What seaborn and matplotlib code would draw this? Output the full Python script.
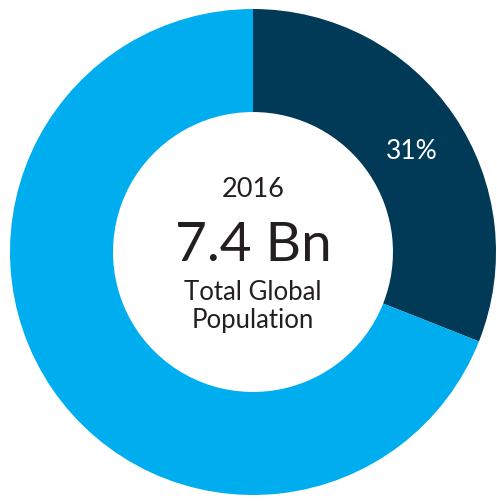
import matplotlib
matplotlib.use("Agg")
import matplotlib.pyplot as plt
import seaborn as sns

# ---- data ---- #
labels = ["Share", "Rest"]
shares = [31, 69]
colors = ["#003a57", "#00aeef"]
year = "2016"
total = "7.4 Bn"
caption = "Total Global\nPopulation"

sns.set_theme(style="white")
plt.rcParams["font.family"] = ["Lato", "DejaVu Sans"]

fig = plt.figure(figsize=(4.97, 5.02), dpi=100)
ax = fig.add_axes([0, 0, 1, 1])

wedges, _ = ax.pie(shares, colors=colors, startangle=90, counterclock=False,
                   radius=1.0, wedgeprops=dict(width=0.424, linewidth=0))

ax.set_aspect("equal")
ax.set_xlim(-253 / 243, (497 - 253) / 243)
ax.set_ylim(-(502 - 253) / 243, 253 / 243)
ax.axis("off")

# percentage label on the dark segment
ax.text(0.654, 0.416, f"{shares[0]}%", color="white", fontsize=19,
        ha="center", va="center")

# centre text
txt = "#231f20"
ax.text(0, 0.26, year, color=txt, fontsize=19.5, ha="center", va="center")
ax.text(0, 0.03, total, color=txt, fontsize=39.5, ha="center", va="center")
ax.text(0, -0.22, caption, color=txt, fontsize=18.5, ha="center", va="center",
        linespacing=1.15)

fig.savefig("out.png", dpi=100)
